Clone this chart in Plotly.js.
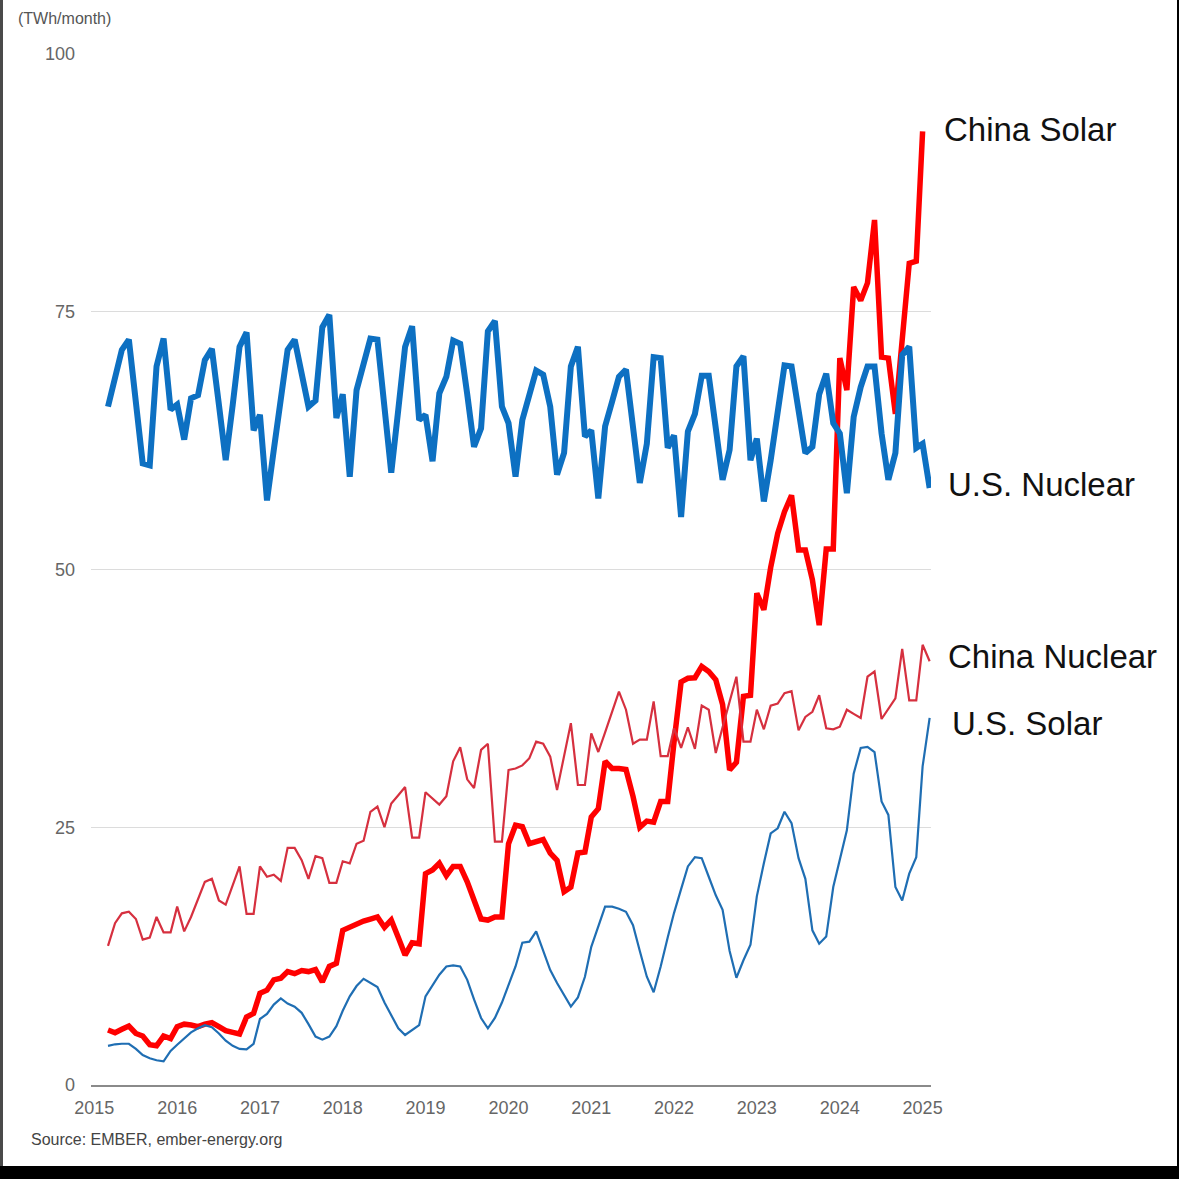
<!DOCTYPE html>
<html>
<head>
<meta charset="utf-8">
<script src="https://cdn.plot.ly/plotly-3.0.1.min.js"></script>
<style>
  body { margin: 0; background: #000; }
  #edge { position: absolute; left: 0; top: 0; width: 3px; height: 1166px; background: #4a4a4a; }
  #chart { position: absolute; left: 3px; top: 0; width: 1174px; height: 1166px; background: #fff; }
</style>
</head>
<body>
<div id="edge"></div>
<div id="chart"></div>
<script>
// monthly generation, TWh/month, first point May 2015
var usNuclear = [
  65.8, 68.8, 71.3, 72.3, 66.0, 60.3, 60.1, 69.7, 72.4, 65.5, 66.0, 62.6,
  66.6, 66.9, 70.3, 71.4, 66.0, 60.6, 66.0, 71.6, 73.0, 63.5, 65.0, 56.7,
  61.6, 66.4, 71.3, 72.3, 69.0, 65.8, 66.4, 73.5, 74.7, 64.7, 67.0, 59.0,
  67.4, 70.0, 72.4, 72.3, 66.0, 59.4, 65.5, 71.6, 73.6, 64.5, 65.0, 60.5,
  67.1, 68.7, 72.2, 71.9, 67.0, 61.9, 63.7, 73.1, 74.1, 65.8, 64.2, 59.0,
  64.5, 66.9, 69.3, 68.9, 65.8, 59.2, 61.3, 69.7, 71.6, 62.9, 63.5, 56.9,
  63.9, 66.3, 68.7, 69.4, 63.9, 58.4, 62.2, 70.6, 70.5, 61.8, 63.0, 55.1,
  63.4, 65.1, 68.8, 68.8, 63.7, 58.7, 61.6, 69.7, 70.7, 60.6, 62.7, 56.6,
  60.6, 65.2, 69.8, 69.7, 65.5, 61.3, 61.9, 67.0, 69.0, 64.2, 63.2, 57.4,
  64.8, 67.7, 69.7, 69.7, 63.2, 58.7, 61.3, 70.8, 71.6, 61.8, 62.2, 57.9
];
var usSolar = [
  3.8, 3.95, 4.0, 4.0, 3.5, 2.9, 2.6, 2.4, 2.3, 3.3, 3.9, 4.5,
  5.1, 5.5, 5.8, 5.6, 5.0, 4.3, 3.8, 3.5, 3.45, 4.0, 6.4, 6.9,
  7.8, 8.4, 7.9, 7.6, 7.0, 5.9, 4.7, 4.4, 4.7, 5.7, 7.2, 8.6,
  9.6, 10.3, 9.9, 9.5, 8.0, 6.7, 5.5, 4.85, 5.3, 5.8, 8.6, 9.7,
  10.7, 11.5, 11.6, 11.5, 10.2, 8.3, 6.5, 5.5, 6.5, 8.0, 9.6, 11.5,
  13.8, 13.9, 14.9, 13.0, 11.15, 9.9, 8.7, 7.6, 8.5, 10.5, 13.4, 15.4,
  17.3, 17.3, 17.1, 16.8, 15.5, 13.0, 10.5, 9.0, 11.5, 14.3, 16.7, 19.0,
  21.2, 22.1, 22.0, 20.2, 18.4, 17.0, 13.0, 10.4, 12.1, 13.6, 18.3, 21.5,
  24.4, 24.9, 26.5, 25.4, 22.0, 20.0, 15.0, 13.7, 14.4, 19.2, 22.0, 24.7,
  30.2, 32.7, 32.8, 32.3, 27.5, 26.2, 19.2, 17.9, 20.5, 22.1, 30.9, 35.6
];
var chinaNuclear = [
  13.5, 15.7, 16.65, 16.8, 16.1, 14.1, 14.3, 16.3, 14.8, 14.8, 17.3, 14.9,
  16.3, 18.0, 19.7, 20.0, 17.9, 17.5, 19.4, 21.2, 16.6, 16.6, 21.2, 20.2,
  20.4, 19.8, 23.0, 23.0, 21.8, 20.0, 22.2, 22.0, 19.6, 19.6, 21.7, 21.5,
  23.4, 23.7, 26.5, 27.0, 25.0, 27.3, 28.1, 28.9, 24.0, 24.0, 28.4, 27.8,
  27.2, 28.0, 31.4, 32.75, 29.65, 28.8, 32.5, 33.1, 23.6, 23.6, 30.55, 30.7,
  31.0, 31.7, 33.3, 33.1, 31.85, 28.6, 31.8, 35.1, 29.1, 29.1, 34.1, 32.3,
  34.2, 36.2, 38.15, 36.4, 33.1, 33.5, 33.5, 37.2, 31.9, 31.9, 34.6, 32.7,
  34.7, 32.6, 36.8, 36.4, 32.2, 34.7, 37.3, 39.6, 33.3, 33.3, 36.4, 34.5,
  36.8, 37.0, 38.0, 38.2, 34.4, 35.7, 36.2, 37.8, 34.6, 34.5, 34.75, 36.4,
  36.0, 35.6, 39.6, 40.1, 35.5, 36.5, 37.5, 42.3, 37.3, 37.3, 42.7, 41.1
];
var chinaSolar = [
  5.33, 5.07, 5.4, 5.72, 5.0, 4.75, 3.9, 3.8, 4.75, 4.5, 5.66, 5.9,
  5.82, 5.66, 5.9, 6.05, 5.66, 5.27, 5.1, 4.95, 6.6, 6.95, 8.9, 9.2,
  10.2, 10.35, 11.0, 10.8, 11.1, 11.0, 11.2, 10.0, 11.5, 11.8, 15.0, 15.35,
  15.6, 15.9, 16.1, 16.3, 15.3, 16.0, 14.3, 12.6, 13.8, 13.7, 20.5, 20.85,
  21.5, 20.3, 21.2, 21.2, 19.7, 17.9, 16.1, 16.0, 16.3, 16.3, 23.4, 25.2,
  25.05, 23.4, 23.6, 23.8, 22.5, 21.8, 18.75, 19.2, 22.5, 22.6, 26.0, 26.8,
  31.4, 30.7, 30.7, 30.6, 28.0, 25.0, 25.6, 25.5, 27.5, 27.5, 33.3, 39.1,
  39.45, 39.5, 40.6, 40.1, 39.3, 36.9, 30.55, 31.3, 37.7, 37.8, 47.7, 46.1,
  50.2, 53.5, 55.6, 57.2, 51.9, 51.9, 49.0, 44.6, 52.0, 52.0, 70.5, 67.4,
  77.4, 76.1, 77.8, 83.9, 70.6, 70.5, 65.1, 72.4, 79.7, 79.9, 92.5
];
var yearLabels = ["2015", "2016", "2017", "2018", "2019", "2020", "2021", "2022", "2023", "2024", "2025"];
var yTicks = [0, 25, 50, 75, 100];

function monthList(year, month, count) {
  var out = [];
  for (var i = 0; i < count; i++) {
    var m = month - 1 + i;
    var y = year + Math.floor(m / 12);
    var mm = (m % 12) + 1;
    out.push(y + "-" + (mm < 10 ? "0" + mm : mm));
  }
  return out;
}

function line(vals, color, width) {
  return {
    x: monthList(2015, 5, vals.length),
    y: vals,
    type: "scatter",
    mode: "lines",
    line: {color: color, width: width},
    hoverinfo: "skip"
  };
}

var traces = [
  line(chinaSolar, "#ff0000", 5.5),
  line(chinaNuclear, "#d6303f", 2.2),
  line(usSolar, "#1f6eb3", 2.2),
  line(usNuclear, "#0d70c2", 6)
];

var labelFont = {family: "Liberation Sans, Arial, sans-serif", size: 33, color: "#111111"};

var layout = {
  width: 1174,
  height: 1166,
  margin: {l: 88, r: 246, t: 54, b: 81},
  paper_bgcolor: "#ffffff",
  plot_bgcolor: "#ffffff",
  showlegend: false,
  font: {family: "Liberation Sans, Arial, sans-serif", color: "#666666"},
  xaxis: {
    type: "date",
    range: ["2015-02-15", "2025-04-07"],
    tickvals: yearLabels.map(function (y) { return y + "-03-01"; }),
    ticktext: yearLabels,
    tickfont: {size: 18, color: "#666666"},
    ticks: "",
    ticklabelstandoff: 6,
    showgrid: false,
    showline: true,
    linecolor: "#8a8a8a",
    linewidth: 1.5,
    zeroline: false
  },
  yaxis: {
    range: [0, 100],
    tickvals: yTicks,
    ticktext: yTicks.map(String),
    tickfont: {size: 18, color: "#666666"},
    ticks: "",
    ticklabelstandoff: 15,
    showgrid: true,
    gridcolor: "#dcdcdc",
    gridwidth: 1,
    showline: false,
    zeroline: false
  },
  annotations: [
    {text: "China Solar", xref: "paper", yref: "paper", x: 1.0131, y: 0.9263,
     xanchor: "left", yanchor: "middle", showarrow: false, font: labelFont},
    {text: "U.S. Nuclear", xref: "paper", yref: "paper", x: 1.0178, y: 0.5829,
     xanchor: "left", yanchor: "middle", showarrow: false, font: labelFont},
    {text: "China Nuclear", xref: "paper", yref: "paper", x: 1.0178, y: 0.4161,
     xanchor: "left", yanchor: "middle", showarrow: false, font: labelFont},
    {text: "U.S. Solar", xref: "paper", yref: "paper", x: 1.0226, y: 0.3511,
     xanchor: "left", yanchor: "middle", showarrow: false, font: labelFont},
    {text: "(TWh/month)", xref: "paper", yref: "paper", x: -0.0893, y: 1.0349,
     xanchor: "left", yanchor: "middle", showarrow: false,
     font: {size: 16, color: "#555555"}},
    {text: "Source: EMBER, ember-energy.org", xref: "paper", yref: "paper", x: -0.0738, y: -0.0533,
     xanchor: "left", yanchor: "middle", showarrow: false,
     font: {size: 16, color: "#444444"}}
  ]
};

Plotly.newPlot("chart", traces, layout, {staticPlot: true, displayModeBar: false});
</script>
</body>
</html>
